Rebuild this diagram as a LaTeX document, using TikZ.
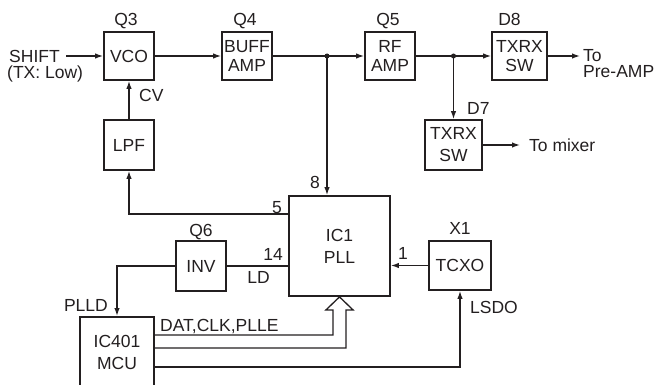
\documentclass[tikz,border=0pt]{standalone}
\usepackage{fontspec}
\setmainfont{Liberation Sans}
\usetikzlibrary{arrows.meta,positioning,calc}
\definecolor{ink}{HTML}{231F20}

\begin{document}
\begin{tikzpicture}[x=1pt, y=-1pt,
  blk/.style={draw=ink, line width=1.8pt, minimum width=50pt, minimum height=48pt,
              inner sep=1pt, align=center, text=ink,
              font=\fontsize{17.5}{19}\selectfont},
  tall/.style={font=\fontsize{17.5}{22}\selectfont},
  txt/.style={text=ink, font=\fontsize{17.5}{16}\selectfont},
  lab/.style={txt, inner sep=0pt, text depth=0pt},
  sig/.style={draw=ink, line width=1.3pt},
  arr/.style={sig, -{Latex[length=8pt,width=5.5pt]}},
  dot/.style={circle, fill=ink, inner sep=0pt, minimum size=5pt}
]
  \useasboundingbox (0,0) rectangle (656,385);

  % blocks
  \node[blk, label={[lab, label distance=5pt, xshift=-3pt]above:Q3}] (vco)  at (129,56)   {VCO};
  \node[blk, label={[lab, label distance=5pt, xshift=-2pt]above:Q4}] (buff) at (247,56)   {BUFF\\AMP};
  \node[blk, label={[lab, label distance=5pt, xshift=-2pt]above:Q5}] (rf)   at (390,56)   {RF\\AMP};
  \node[blk, minimum width=55pt,
        label={[lab, label distance=5pt, xshift=-10pt]above:D8}]    (d8)   at (519.5,56) {TXRX\\SW};
  \node[blk, tall, minimum width=57pt, minimum height=50pt] (d7) at (453.5,145) {TXRX\\SW};
  \node[blk, minimum height=50pt] (lpf) at (129,145) {LPF};
  \node[blk, minimum height=50pt,
        label={[lab, label distance=3pt]above:Q6}] (inv)  at (201,266)   {INV};
  \node[blk, minimum width=62pt, minimum height=49pt,
        label={[lab, label distance=5pt]above:X1}] (tcxo) at (460,265.5) {TCXO};
  \node[blk, tall, minimum width=101pt, minimum height=100pt] (pll) at (339.5,246) {IC1\\PLL};
  \node[blk, tall, minimum width=74pt, minimum height=72pt]   (mcu) at (117,352.9) {IC401\\MCU};

  % texts
  \node[txt, anchor=east, inner xsep=6pt] (shift) at (66,56) {SHIFT};
  \node[lab, anchor=base west] (txlow) at (7,79) {(TX: Low)};
  \node[txt, align=left, anchor=north west, inner sep=0pt, inner xsep=3pt] (topre) at (580,49) {To\\Pre-AMP};
  \node[txt, anchor=west, inner sep=0pt, inner xsep=9pt] (tomix) at (520,145) {To mixer};

  % RF chain
  \node[dot] (j1) at (327,56) {};
  \node[dot] (j2) at (453.5,56) {};
  \draw[arr] (shift.east) -- (vco.west);
  \draw[arr] (vco.east) -- (buff.west);
  \draw[arr] (buff.east) -- (rf.west);
  \draw[arr] (rf.east) -- (d8.west);
  \draw[arr] (d8.east) -- (d8.east -| topre.west);
  \draw[arr] (j2.center) -- (j2.center |- d7.north);
  \draw[arr] (d7.east) -- (d7.east -| tomix.west);
  \draw[arr] (j1.center) -- (j1.center |- pll.north);
  \node[lab, anchor=base east] (n8) at (320,189) {8};
  \node[lab, anchor=base west] (n7) at (467,115) {D7};

  % loop
  \draw[arr] (lpf.north) -- (vco.south);
  \node[lab, anchor=base west] (cv) at (139,102) {CV};
  \draw[arr] ($(pll.north west)+(0,19)$) -| (lpf.south);
  \node[lab, anchor=base east] (n5) at (282,213) {5};

  % lock detect
  \draw[sig] (inv.east) -- (inv.east -| pll.west);
  \node[lab, anchor=base east] (n14) at (283,260) {14};
  \node[lab, anchor=base east] (ld) at (270,283) {LD};
  \draw[arr] (inv.west) -| (mcu.north);
  \node[lab, anchor=base east] (plld) at (108,311) {PLLD};

  % reference
  \draw[arr] (tcxo.west) -- (tcxo.west -| pll.east);
  \node[lab, anchor=base west] (n1) at (398,259) {1};

  % MCU bus
  \draw[sig, line join=miter] ($(mcu.north east)+(0,19)$) -| ($(pll.south)+(-6.5,13)$)
    -- ++(-7,0) -- (pll.south) -- ++(13.5,13) -- ++(-7,0) |- ($(mcu.north east)+(0,32)$);
  \node[lab, anchor=base west] (bus) at (160,331) {DAT,CLK,PLLE};
  \draw[arr] ($(mcu.north east)+(0,51)$) -| (tcxo.south);
  \node[lab, anchor=base west] (lsdo) at (470,313) {LSDO};
\end{tikzpicture}
\end{document}
